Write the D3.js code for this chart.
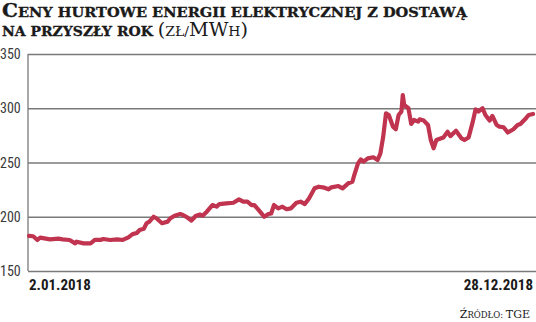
<!DOCTYPE html>
<html><head><meta charset="utf-8">
<script src="https://cdn.jsdelivr.net/npm/d3@7"></script>
<style>
body{margin:0;background:#fff;}
svg{display:block;}
</style></head>
<body><svg id="c" width="536" height="322"></svg>
<script>
const dates = ["2018-01-02","2018-01-05","2018-01-08","2018-01-10","2018-01-17","2018-01-23","2018-01-26","2018-01-31","2018-02-04","2018-02-05","2018-02-10","2018-02-15","2018-02-18","2018-02-22","2018-02-24","2018-03-01","2018-03-06","2018-03-10","2018-03-14","2018-03-17","2018-03-20","2018-03-22","2018-03-25","2018-03-27","2018-03-29","2018-04-01","2018-04-03","2018-04-07","2018-04-11","2018-04-13","2018-04-16","2018-04-20","2018-04-22","2018-04-25","2018-04-28","2018-05-01","2018-05-04","2018-05-06","2018-05-09","2018-05-13","2018-05-16","2018-05-18","2018-05-23","2018-05-28","2018-06-01","2018-06-04","2018-06-07","2018-06-10","2018-06-12","2018-06-16","2018-06-19","2018-06-22","2018-06-24","2018-06-26","2018-06-29","2018-07-02","2018-07-05","2018-07-08","2018-07-12","2018-07-15","2018-07-18","2018-07-21","2018-07-25","2018-07-28","2018-08-01","2018-08-04","2018-08-06","2018-08-11","2018-08-14","2018-08-18","2018-08-21","2018-08-22","2018-08-25","2018-08-27","2018-08-29","2018-09-01","2018-09-05","2018-09-08","2018-09-10","2018-09-12","2018-09-14","2018-09-16","2018-09-19","2018-09-21","2018-09-23","2018-09-25","2018-09-26","2018-09-27","2018-09-30","2018-10-02","2018-10-04","2018-10-07","2018-10-08","2018-10-11","2018-10-14","2018-10-16","2018-10-18","2018-10-20","2018-10-25","2018-10-28","2018-10-30","2018-11-03","2018-11-07","2018-11-09","2018-11-12","2018-11-15","2018-11-17","2018-11-19","2018-11-22","2018-11-24","2018-11-27","2018-11-29","2018-12-02","2018-12-04","2018-12-07","2018-12-10","2018-12-14","2018-12-17","2018-12-19","2018-12-23","2018-12-25","2018-12-28"];
const prices = [182.3,182,178.6,180.7,179.2,179.8,179.2,178.6,175.5,177,175.5,175.5,178.6,178.6,179.5,178.6,179.2,178.6,181,184,185,187.8,189,194,195.5,200,198.6,194,195.5,198.6,201,202.5,201.6,199.5,196.4,200.7,202,201,204.7,210.8,209.3,211.7,212.3,212.9,216,213.9,213.9,210.8,210.8,204.7,200,202.5,203,210.8,207.7,209.3,206.9,207.7,212.9,213.9,211.7,216.9,226.2,227.7,226.8,225.3,227.1,228.3,226.2,230.8,232.3,236.9,249.2,252.9,250.8,253.8,254.8,252.3,258.4,273.8,295.3,293.8,283,280.6,293.8,296.9,312.2,303,300,285.5,289.2,287.7,289.8,288.6,284.6,270.7,263.1,270.7,273.1,278.3,274.3,279.2,272.2,270.7,273.1,287.7,299,297,300,293.8,288.6,292.9,284.6,283.1,282.5,277.6,280.6,284.6,285.5,290.8,293.8,294.7];
const yTicks = [150,200,250,300,350];
const xLabels = ["2.01.2018","28.12.2018"];

const svg = d3.select("#c");
const parse = d3.timeParse("%Y-%m-%d");
const data = dates.map((d,i)=>({date:parse(d), v:prices[i]}));

const x = d3.scaleTime().domain(d3.extent(data,d=>d.date)).range([29,533]);
const y = d3.scaleLinear().domain([150,350]).range([271,54]);

// grid
const yAxis = d3.axisRight(y).tickValues(yTicks).tickSize(536-28).tickFormat("");
const g = svg.append("g").attr("transform","translate(28,0)").call(yAxis);
g.select(".domain").remove();
g.selectAll("line").attr("stroke","#7a7a7a").attr("stroke-width",1.3);

svg.append("line").attr("x1",28).attr("x2",28).attr("y1",y(350)).attr("y2",y(150))
  .attr("stroke","#7a7a7a").attr("stroke-width",1.3);

svg.selectAll(".yl").data(yTicks).enter().append("text")
  .attr("x",0).attr("y",d=>y(d)+5)
  .attr("font-family","'Liberation Sans Narrow','Roboto Condensed',Roboto,sans-serif")
  .attr("font-size",14).attr("fill","#3a3a3a").text(d=>d);

// line
svg.append("path").datum(data)
  .attr("d",d3.line().x(d=>x(d.date)).y(d=>y(d.v)).curve(d3.curveLinear))
  .attr("fill","none").attr("stroke","#c0344f").attr("stroke-width",4.2)
  .attr("stroke-linejoin","round").attr("stroke-linecap","round");

// x labels
const xf = "'Liberation Sans Narrow','Roboto Condensed',Roboto,sans-serif";
svg.append("text").attr("x",29).attr("y",290).attr("font-family",xf).attr("font-weight","bold")
  .attr("font-size",15).attr("fill","#1a1a1a").text(xLabels[0]);
svg.append("text").attr("x",533).attr("y",290).attr("text-anchor","end").attr("font-family",xf).attr("font-weight","bold")
  .attr("font-size",15).attr("fill","#1a1a1a").text(xLabels[1]);

// title (small caps built manually)
const tf = "'DejaVu Serif',serif";
const t1 = svg.append("text").attr("x",2).attr("y",17).attr("font-family",tf).attr("font-weight","bold")
  .attr("fill","#1a1a1a").attr("stroke","#1a1a1a").attr("stroke-width",0.35);
t1.append("tspan").attr("font-size",18.5).text("C");
t1.append("tspan").attr("font-size",13.5).text("ENY HURTOWE ENERGII ELEKTRYCZNEJ Z DOSTAWĄ");
t1.attr("textLength",465).attr("lengthAdjust","spacingAndGlyphs");

const t2 = svg.append("text").attr("x",2).attr("y",36).attr("font-family",tf).attr("fill","#1a1a1a");
t2.append("tspan").attr("font-weight","bold").attr("stroke","#1a1a1a").attr("stroke-width",0.35).attr("font-size",13.5).text("NA PRZYSZŁY ROK ");
t2.append("tspan").attr("font-size",18.5).text("(");
t2.append("tspan").attr("font-size",13.5).text("ZŁ/");
t2.append("tspan").attr("font-size",18.5).text("MW");
t2.append("tspan").attr("font-size",13.5).text("H");
t2.append("tspan").attr("font-size",18.5).text(")");
t2.attr("textLength",246).attr("lengthAdjust","spacingAndGlyphs");

// source
const s = svg.append("text").attr("x",530).attr("y",318).attr("text-anchor","end").attr("font-family",tf).attr("fill","#1a1a1a");
s.append("tspan").attr("font-size",11).text("Ź");
s.append("tspan").attr("font-size",8.5).text("RÓDŁO: ");
s.append("tspan").attr("font-size",11).text("TGE");
</script></body></html>
